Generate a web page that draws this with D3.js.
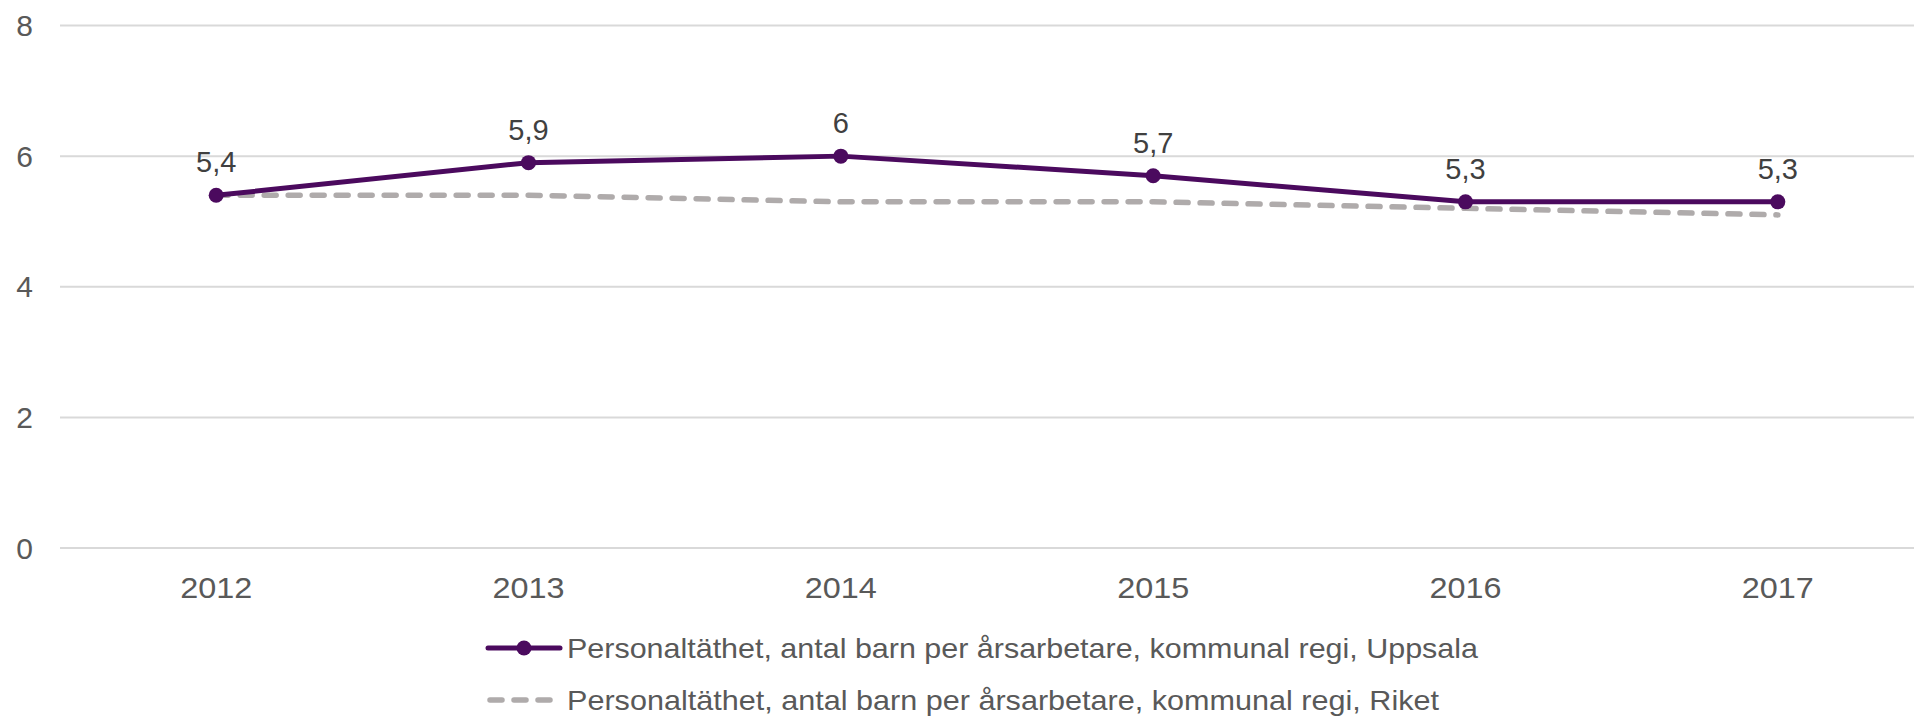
<!DOCTYPE html>
<html>
<head>
<meta charset="utf-8">
<script src="https://cdn.jsdelivr.net/npm/d3@7"></script>
<style>
	body { margin: 0; background: #fff; }
	svg { display: block; font-family: "Liberation Sans", Arial, sans-serif; }
</style>
</head>
<body>
<div id="chart"></div>
<script>
//Chart data
var years = ["2012", "2013", "2014", "2015", "2016", "2017"];
var uppsala = [5.4, 5.9, 6, 5.7, 5.3, 5.3];
var riket = [5.4, 5.4, 5.3, 5.3, 5.2, 5.1];
var yTicks = [0, 2, 4, 6, 8];
var seriesNames = [
	"Personaltäthet, antal barn per årsarbetare, kommunal regi, Uppsala",
	"Personaltäthet, antal barn per årsarbetare, kommunal regi, Riket"
];

var width = 1914, height = 717;
var purple = "#4b0a5e", grey = "#afabab";

var svg = d3.select("#chart").append("svg")
	.attr("width", width)
	.attr("height", height);

//Scales
var x = d3.scalePoint().domain(years).range([60, 1934]).padding(0.5);
var y = d3.scaleLinear().domain([0, 8]).range([548, 25.5]);

//Gridlines
svg.append("g").selectAll("line")
	.data(yTicks)
	.enter().append("line")
		.attr("x1", 60)
		.attr("x2", 1934)
		.attr("y1", function(d) {return y(d);})
		.attr("y2", function(d) {return y(d);})
		.attr("stroke", "#d9d9d9")
		.attr("stroke-width", 2);

//Y axis labels
svg.append("g").selectAll("text")
	.data(yTicks)
	.enter().append("text")
		.attr("x", 33)
		.attr("y", function(d) {return y(d);})
		.attr("dy", "0.35em")
		.attr("text-anchor", "end")
		.attr("font-size", 30)
		.attr("fill", "#595959")
		.text(function(d) {return d;});

//X axis labels
svg.append("g").selectAll("text")
	.data(years)
	.enter().append("text")
		.attr("x", function(d) {return x(d);})
		.attr("y", 598)
		.attr("text-anchor", "middle")
		.attr("font-size", 30)
		.attr("fill", "#595959")
		.attr("textLength", 72)
		.attr("lengthAdjust", "spacingAndGlyphs")
		.text(function(d) {return d;});

var line = d3.line()
	.x(function(d, i) {return x(years[i]);})
	.y(function(d) {return y(d);});

//Riket (dashed)
svg.append("path")
	.attr("d", line(riket))
	.attr("fill", "none")
	.attr("stroke", grey)
	.attr("stroke-width", 5.5)
	.attr("stroke-dasharray", "12,12")
	.attr("stroke-linecap", "round");

//Uppsala (solid with markers)
svg.append("path")
	.attr("d", line(uppsala))
	.attr("fill", "none")
	.attr("stroke", purple)
	.attr("stroke-width", 5)
	.attr("stroke-linejoin", "round");

svg.append("g").selectAll("circle")
	.data(uppsala)
	.enter().append("circle")
		.attr("cx", function(d, i) {return x(years[i]);})
		.attr("cy", function(d) {return y(d);})
		.attr("r", 7.5)
		.attr("fill", purple);

//Data labels
svg.append("g").selectAll("text")
	.data(uppsala)
	.enter().append("text")
		.attr("x", function(d, i) {return x(years[i]);})
		.attr("y", function(d) {return y(d) - 23;})
		.attr("text-anchor", "middle")
		.attr("font-size", 29)
		.attr("fill", "#404040")
		.text(function(d) {return String(d).replace(".", ",");});

//Legend
var legend = svg.append("g");
var legendY = [648, 700];

legend.append("line")
	.attr("x1", 488).attr("x2", 560)
	.attr("y1", legendY[0]).attr("y2", legendY[0])
	.attr("stroke", purple)
	.attr("stroke-width", 5)
	.attr("stroke-linecap", "round");
legend.append("circle")
	.attr("cx", 524).attr("cy", legendY[0])
	.attr("r", 7.5)
	.attr("fill", purple);

legend.append("line")
	.attr("x1", 490).attr("x2", 556)
	.attr("y1", legendY[1]).attr("y2", legendY[1])
	.attr("stroke", grey)
	.attr("stroke-width", 5.5)
	.attr("stroke-dasharray", "12,12")
	.attr("stroke-linecap", "round");

legend.selectAll("text")
	.data(seriesNames)
	.enter().append("text")
		.attr("x", 567)
		.attr("y", function(d, i) {return legendY[i];})
		.attr("dy", "0.35em")
		.attr("font-size", 28)
		.attr("fill", "#595959")
		.attr("textLength", function(d, i) {return i == 0 ? 911 : 872;})
		.attr("lengthAdjust", "spacingAndGlyphs")
		.text(function(d) {return d;});
</script>
</body>
</html>
